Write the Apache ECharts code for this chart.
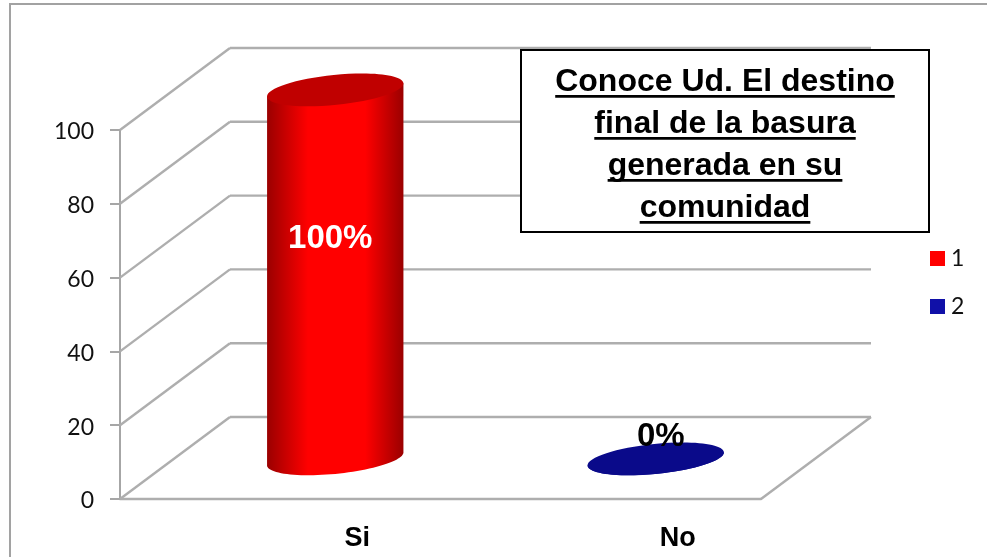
<!DOCTYPE html>
<html>
<head>
<meta charset="utf-8">
<style>html,body{margin:0;padding:0;background:#fff}#chart{width:987px;height:557px}</style>
<script src="https://cdn.jsdelivr.net/npm/echarts@6/dist/echarts.min.js"></script>
</head>
<body>
<div id="chart"></div>
<script>
const categories = ['Si', 'No'];
const seriesOneValues = [100, null];
const seriesTwoValues = [null, 0];
const valueTicks = [0, 20, 40, 60, 80, 100];
const titleLines = ['Conoce Ud. El destino', 'final de la basura', 'generada en su', 'comunidad'];

const ARIAL = '"Liberation Sans", Arial, sans-serif';
const BODY = 'Lato, "Open Sans", sans-serif';
const GRID_COLOR = '#aeaeae';

// Oblique projection of the box: how far the back wall sits from the front plane.
const DEPTH_X = 110;
const DEPTH_Y = -82;

const TITLE_SIZE = 32;
const TITLE_PITCH = 42;
const TITLE_TOP = 50;
const TITLE_PAD_X = 34;
const TITLE_CENTRE = 725;

// Walls and floor of the pseudo 3D box, one call per value tick.
function renderWall(params, api) {
  const tick = api.value(1);
  const area = params.coordSys;
  const p = api.coord([0, tick]);
  const x0 = area.x, x1 = area.x + area.width, y = p[1];
  const line = (a, b, c, d) => ({
    type: 'line',
    shape: { x1: a, y1: b, x2: c, y2: d },
    style: { stroke: GRID_COLOR, lineWidth: 2.4 }
  });
  const parts = [
    line(x0, y, x0 + DEPTH_X, y + DEPTH_Y),
    line(x0 + DEPTH_X, y + DEPTH_Y, x1 + DEPTH_X, y + DEPTH_Y)
  ];
  if (tick === 0) parts.push(line(x1, y, x1 + DEPTH_X, y + DEPTH_Y));
  return { type: 'group', children: parts };
}

// Cylinder standing halfway into the box, with its value label on top of it.
function cylinderRenderer(look) {
  return function (params, api) {
    const base = api.coord([api.value(0), 0]);
    const head = api.coord([api.value(0), api.value(1)]);
    const cx = base[0] + DEPTH_X / 2;
    const yBase = base[1] + DEPTH_Y * 0.49;
    const yHead = head[1] + DEPTH_Y * 0.49;
    const rx = 68.5, ry = 15, tilt = 0.1;

    // Points of the tilted rim, y measured downwards on screen.
    const rim = a => [
      rx * Math.cos(a) * Math.cos(tilt) + ry * Math.sin(a) * Math.sin(tilt),
      -rx * Math.cos(a) * Math.sin(tilt) + ry * Math.sin(a) * Math.cos(tilt)
    ];
    // Parameter where the rim has a vertical tangent.
    const t0 = Math.atan((ry / rx) * Math.tan(tilt));
    const right = rim(t0);
    const left = rim(t0 + Math.PI);

    const outline = [[cx + left[0], yHead + left[1]], [cx + right[0], yHead + right[1]]];
    for (let i = 0; i <= 48; i++) {
      const p = rim(t0 + (Math.PI * i) / 48);
      outline.push([cx + p[0], yBase + p[1]]);
    }

    const shade = new echarts.graphic.LinearGradient(cx + left[0], 0, cx + right[0], 0, [
      { offset: 0, color: look.edge },
      { offset: 0.3, color: look.body },
      { offset: 0.72, color: look.body },
      { offset: 1, color: look.edge }
    ], true);

    return {
      type: 'group',
      children: [
        { type: 'polygon', shape: { points: outline }, style: { fill: shade } },
        {
          type: 'ellipse',
          x: cx, y: yHead, rotation: tilt,
          shape: { cx: 0, cy: 0, rx: rx, ry: ry },
          style: { fill: look.cap }
        },
        {
          type: 'text',
          x: cx + look.labelDx,
          y: (yBase + yHead) / 2 + look.labelDy,
          style: {
            text: api.value(1) + '%',
            fill: look.labelColor,
            font: 'bold 33px ' + ARIAL,
            textAlign: 'center',
            textVerticalAlign: 'middle'
          }
        }
      ]
    };
  };
}

function toPoints(values) {
  return values.map((v, i) => [i, v]).filter(p => p[1] !== null);
}

// Title underlines follow the measured width of each line.
function titleUnderlines() {
  const ctx = document.createElement('canvas').getContext('2d');
  ctx.font = 'bold ' + TITLE_SIZE + 'px ' + ARIAL;
  return titleLines.map((s, i) => {
    const w = ctx.measureText(s).width;
    return {
      type: 'rect',
      z: 20,
      shape: { x: TITLE_CENTRE - w / 2, y: TITLE_TOP + 45 + i * TITLE_PITCH, width: w, height: 2.8 },
      style: { fill: '#000' }
    };
  });
}

const chart = echarts.init(document.getElementById('chart'), null, { renderer: 'canvas' });
chart.setOption({
  animation: false,
  backgroundColor: '#fff',
  title: {
    text: titleLines.join('\n'),
    left: TITLE_CENTRE - TITLE_PAD_X,
    top: TITLE_TOP,
    textAlign: 'center',
    padding: [11, TITLE_PAD_X, 3, TITLE_PAD_X],
    backgroundColor: '#fff',
    borderColor: '#000',
    borderWidth: 2,
    textStyle: {
      fontFamily: ARIAL,
      fontSize: TITLE_SIZE,
      fontWeight: 'bold',
      color: '#000',
      lineHeight: TITLE_PITCH
    }
  },
  legend: {
    data: ['1', '2'],
    orient: 'vertical',
    left: 930,
    top: 247,
    padding: 0,
    icon: 'rect',
    itemWidth: 15,
    itemHeight: 15,
    itemGap: 25,
    selectedMode: false,
    textStyle: { fontFamily: BODY, fontSize: 23, color: '#111', padding: [2, 0, 0, 1] }
  },
  grid: { left: 120, right: 226, top: 130, bottom: 58 },
  xAxis: {
    type: 'category',
    data: categories,
    axisLine: { lineStyle: { color: GRID_COLOR, width: 2.4 } },
    axisTick: { show: false },
    axisLabel: {
      margin: 26,
      fontFamily: ARIAL,
      fontSize: 27,
      fontWeight: 'bold',
      color: '#000',
      padding: [0, 0, 0, 154]
    }
  },
  yAxis: {
    type: 'value',
    min: 0,
    max: 100,
    interval: 20,
    splitLine: { show: false },
    axisLine: { show: true, lineStyle: { color: '#a6a6a6', width: 2 } },
    axisTick: { show: true, length: 10, lineStyle: { color: '#a6a6a6', width: 2 } },
    axisLabel: {
      margin: 26,
      fontFamily: BODY,
      fontSize: 23,
      color: '#111',
      verticalAlign: 'top',
      lineHeight: 4
    }
  },
  graphic: [
    {
      type: 'polyline',
      z: 1,
      shape: { points: [[10, 557], [10, 4], [987, 4]] },
      style: { fill: 'none', stroke: '#a2a2a2', lineWidth: 2 }
    },
    ...titleUnderlines()
  ],
  series: [
    {
      type: 'custom',
      name: 'walls',
      coordinateSystem: 'cartesian2d',
      data: valueTicks.map(v => [0, v]),
      renderItem: renderWall,
      clip: false,
      silent: true,
      z: 1
    },
    {
      type: 'custom',
      name: '1',
      coordinateSystem: 'cartesian2d',
      itemStyle: { color: '#ff0000' },
      data: toPoints(seriesOneValues),
      encode: { x: 0, y: 1 },
      clip: false,
      z: 3,
      renderItem: cylinderRenderer({
        edge: '#9a0000', body: '#ff0000', cap: '#c00000',
        labelColor: '#fff', labelDx: -5, labelDy: -35
      })
    },
    {
      type: 'custom',
      name: '2',
      coordinateSystem: 'cartesian2d',
      itemStyle: { color: '#1010a8' },
      data: toPoints(seriesTwoValues),
      encode: { x: 0, y: 1 },
      clip: false,
      z: 3,
      renderItem: cylinderRenderer({
        edge: '#0a0a8a', body: '#0a0a8a', cap: '#0a0a8a',
        labelColor: '#000', labelDx: 5, labelDy: -22
      })
    }
  ]
});
</script>
</body>
</html>
